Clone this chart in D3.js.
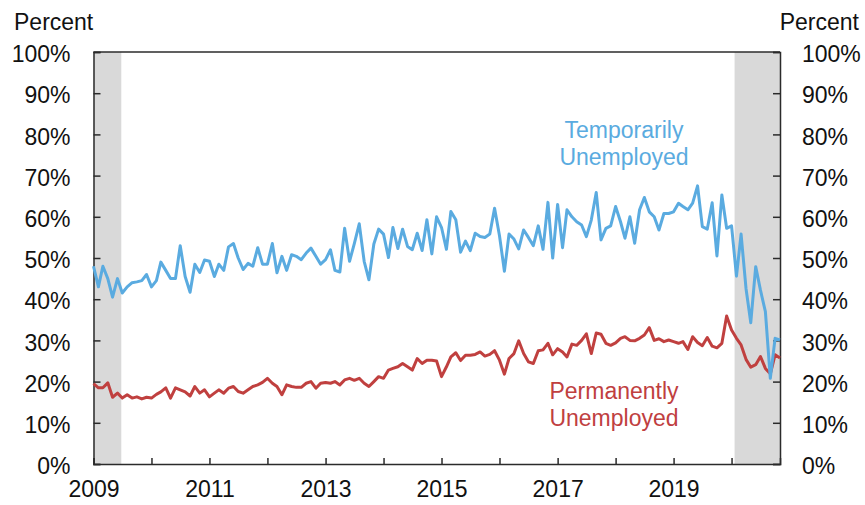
<!DOCTYPE html>
<html>
<head>
<meta charset="utf-8">
<script src="https://cdn.jsdelivr.net/npm/d3@7"></script>
<style>
html,body{margin:0;padding:0;background:#fff;}
svg{display:block;font-family:"Liberation Sans",Arial,Helvetica,sans-serif;}
</style>
</head>
<body>
<svg id="chart" width="865" height="505"></svg>
<script>
// Monthly data, Jan 2009 .. Nov 2020 (percent)
const startYear = 2009;
const temporarily = [
  48, 43, 48, 45, 40.5, 45, 41.5, 43, 44, 44.2, 44.5, 46,
  43, 44.5, 49, 47, 45, 45, 53, 45.5, 41.7, 48.5, 46.5, 49.5,
  49.2, 45.5, 48.5, 47, 52.7, 53.5, 50, 47.2, 48.7, 48, 52.5, 48.5,
  48.5, 53.5, 46.4, 50.4, 47, 50.8, 50.4, 49.6, 51.2, 52.4, 50.4, 48.5,
  49.6, 52, 47, 46.6, 57.2, 49.2, 53.5, 58.3, 49.2, 44.7, 53.4, 57,
  55.8, 50.1, 57.4, 52.3, 57, 52.8, 52, 56, 51.8, 59.3, 51, 60,
  57.4, 52.1, 61.3, 59.3, 51.4, 54.1, 51.8, 56, 55.2, 55, 55.8, 62.1,
  55.4, 46.8, 55.8, 54.6, 52.2, 56.8, 55, 53, 57.8, 52.1, 63.5, 50,
  63, 52.5, 61.7, 60, 58.8, 58, 55.2, 59.2, 65.9, 54.4, 57.2, 57.8,
  62.5, 58.8, 54.8, 60, 53.6, 61.7, 64.7, 61.2, 60, 56.8, 60.8,
  60.8, 61.2, 63.3, 62.5, 61.7, 63.3, 67.5, 57.6, 57, 63.4, 50.5, 65.3,
  57.2, 57.8, 45.6, 55.8, 42.6, 34.3, 47.9, 42.2, 37, 20.8, 30.5, 30.1
];
const permanently = [
  19.5, 18.5, 18.5, 19.7, 16.2, 17.2, 16, 16.8, 16, 16.3, 15.8, 16.2,
  16, 16.9, 17.5, 18.5, 16, 18.5, 18, 17.5, 16.5, 18.8, 17.2, 18,
  16.3, 17.2, 18, 17.2, 18.4, 18.8, 17.6, 17.2, 18, 18.8, 19.2, 19.8,
  20.8, 19.6, 18.8, 16.8, 19.2, 18.8, 18.6, 18.6, 19.6, 20, 18.4, 19.6,
  19.8, 19.6, 20, 19.2, 20.4, 20.8, 20.3, 20.8, 19.6, 18.8, 20, 21.2,
  20.8, 22.8, 23.2, 23.6, 24.4, 23.6, 22.8, 25.6, 24.4, 25.2, 25.2, 25,
  21.2, 23.6, 26, 27, 25.1, 26.4, 26.4, 26.6, 27.2, 26.2, 26.6, 27.5,
  25.2, 21.8, 25.6, 26.8, 29.9, 26.8, 24.8, 24.4, 27.5, 27.7, 29.3, 26.5,
  28, 27.2, 26, 29.1, 28.8, 30, 31.6, 26.8, 31.8, 31.5, 29.3, 28.8,
  29.4, 30.5, 30.9, 30, 29.9, 30.5, 31.3, 33.1, 30, 30.4, 29.7,
  30.1, 29.7, 29.3, 29.7, 27.8, 30.9, 29.5, 28.7, 30.7, 28.6, 28.2, 29.3,
  35.9, 32.5, 30.5, 28.9, 25.4, 23.5, 24.1, 26.1, 23.2, 21.9, 26.5, 25.7
];
const recessions = [["2009-01-01", "2009-06-25"], ["2020-01-20", "2020-11-01"]];
const yTicks = [0, 10, 20, 30, 40, 50, 60, 70, 80, 90, 100];
const xTickYears = [2009, 2010, 2011, 2012, 2013, 2014, 2015, 2016, 2017, 2018, 2019, 2020];
const xLabelYears = [2009, 2011, 2013, 2015, 2017, 2019];
const seriesLabels = [
  {lines: ["Temporarily", "Unemployed"], color: "#5aabe0"},
  {lines: ["Permanently", "Unemployed"], color: "#c0403f"}
];

const svg = d3.select("#chart");
const L = 93.5, R = 780, T = 52, B = 464;
const parse = d3.timeParse("%Y-%m-%d");
const dateOf = i => new Date(startYear, i, 1);
const x = d3.scaleTime().domain([dateOf(0), dateOf(temporarily.length - 1)]).range([L, R]);
const y = d3.scaleLinear().domain([0, 100]).range([B, T]);

// recession shading
svg.append("g").selectAll("rect").data(recessions).join("rect")
  .attr("x", d => x(parse(d[0])))
  .attr("width", d => x(parse(d[1])) - x(parse(d[0])))
  .attr("y", T).attr("height", B - T)
  .attr("fill", "#d9d9d9");

const axisColor = "#2b2b2b";
const fs = "23px";

// left axis
const left = svg.append("g").attr("transform", `translate(${L},0)`)
  .call(d3.axisLeft(y).tickValues(yTicks).tickSize(-7).tickFormat(d => d + "%").tickPadding(23));
// right axis
const right = svg.append("g").attr("transform", `translate(${R},0)`)
  .call(d3.axisRight(y).tickValues(yTicks).tickSize(-7).tickFormat(d => d + "%").tickPadding(22));
// bottom axis
const bottom = svg.append("g").attr("transform", `translate(0,${B})`)
  .call(d3.axisBottom(x).tickValues(xTickYears.map(yr => new Date(yr, 0, 1))).tickSize(-6)
    .tickFormat(d => xLabelYears.includes(d.getFullYear()) ? d.getFullYear() : "").tickPadding(13));

[left, right, bottom].forEach(g => {
  g.select(".domain").attr("stroke", axisColor).attr("stroke-width", 1.5);
  g.selectAll(".tick line").attr("stroke", axisColor).attr("stroke-width", 1.5);
  g.selectAll(".tick text").attr("fill", "#111").style("font-size", fs);
});
left.selectAll(".tick text").attr("dy", "0.42em");
right.selectAll(".tick text").attr("dy", "0.42em");
bottom.selectAll(".tick text").attr("dy", "0.86em");
// top frame
svg.append("line").attr("x1", L).attr("x2", R).attr("y1", T).attr("y2", T)
  .attr("stroke", axisColor).attr("stroke-width", 1.5);

// axis titles
svg.append("text").attr("x", 14).attr("y", 30).text("Percent")
  .style("font-size", fs).attr("fill", "#111");
svg.append("text").attr("x", 859).attr("y", 30).attr("text-anchor", "end").text("Percent")
  .style("font-size", fs).attr("fill", "#111");

// lines
const line = d3.line().x((d, i) => x(dateOf(i))).y(d => y(d));
svg.append("path").datum(permanently).attr("d", line)
  .attr("fill", "none").attr("stroke", "#c0403f").attr("stroke-width", 3).attr("stroke-linejoin", "round");
svg.append("path").datum(temporarily).attr("d", line)
  .attr("fill", "none").attr("stroke", "#5aabe0").attr("stroke-width", 3).attr("stroke-linejoin", "round");

// series labels
const labelPos = [{cx: 624, y0: 138}, {cx: 614, y0: 399}];
seriesLabels.forEach((s, k) => {
  const t = svg.append("text").attr("text-anchor", "middle").attr("fill", s.color).style("font-size", "23px");
  s.lines.forEach((ln, j) => {
    t.append("tspan").attr("x", labelPos[k].cx).attr("y", labelPos[k].y0 + j * 27).text(ln);
  });
});
</script>
</body>
</html>
